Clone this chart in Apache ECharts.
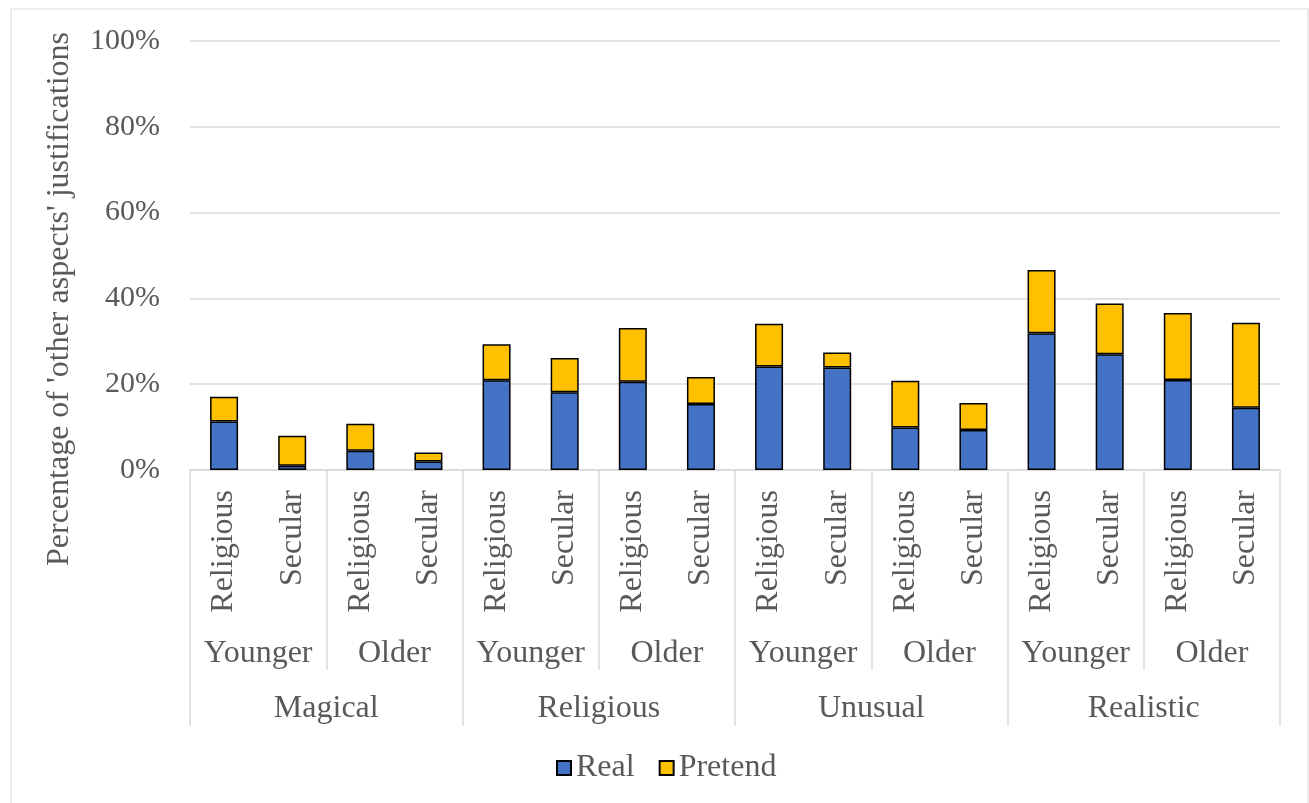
<!DOCTYPE html>
<html>
<head>
    <meta charset="utf-8" />
    <title>Other aspects justifications</title>
    <script src="https://cdn.jsdelivr.net/npm/echarts@6/dist/echarts.min.js"></script>
    <style>
        html, body { margin: 0; padding: 0; background: #fff; }
        #chart { width: 1309px; height: 803px; }
    </style>
</head>
<body>
    <div id="chart"></div>
    <script>
        // 分类（三级横轴）
        var level1 = ['Religious', 'Secular', 'Religious', 'Secular',
                      'Religious', 'Secular', 'Religious', 'Secular',
                      'Religious', 'Secular', 'Religious', 'Secular',
                      'Religious', 'Secular', 'Religious', 'Secular'];
        var level2 = ['Younger', 'Older', 'Younger', 'Older', 'Younger', 'Older', 'Younger', 'Older'];
        var level3 = ['Magical', 'Religious', 'Unusual', 'Realistic'];
        // 数据（%）
        var realData = [11.3, 1.0, 4.5, 2.0, 20.9, 18.1, 20.6, 15.4, 24.1, 23.9, 9.9, 9.3, 31.9, 27.0, 21.0, 14.5];
        var pretendData = [5.8, 7.0, 6.3, 2.1, 8.4, 8.0, 12.5, 6.3, 10.0, 3.5, 10.9, 6.3, 14.7, 11.8, 15.6, 19.8];
        var yTicks = [0, 20, 40, 60, 80, 100];

        var font = 'Liberation Serif, "Times New Roman", serif';
        var txtColor = '#595959';
        var lineColor = '#d9d9d9';

        var myChart = echarts.init(document.getElementById('chart'));
        var option = {
            backgroundColor: '#fff',
            animation: false,
            textStyle: { fontFamily: font },
            graphic: [
                {
                    type: 'rect',
                    shape: { x: 11, y: 9, width: 1297, height: 800 },
                    style: { fill: 'none', stroke: lineColor, lineWidth: 1 },
                    silent: true
                },
                {
                    type: 'text',
                    x: 60, y: 299,
                    rotation: Math.PI / 2,
                    style: {
                        text: "Percentage of 'other aspects' justifications",
                        font: '32px ' + font,
                        fill: txtColor,
                        align: 'center',
                        verticalAlign: 'middle'
                    }
                }
            ],
            grid: { left: 190, right: 29, top: 41, bottom: 333 },
            legend: {
                bottom: 14,
                left: 551,
                itemWidth: 14,
                itemHeight: 14,
                itemGap: 24,
                textStyle: { fontSize: 32, color: txtColor, fontFamily: font },
                data: [
                    { name: 'Real', icon: 'rect' },
                    { name: 'Pretend', icon: 'rect' }
                ]
            },
            xAxis: [
                {
                    type: 'category',
                    data: level1,
                    axisLine: { show: true, lineStyle: { color: lineColor, width: 1.5 } },
                    axisTick: { show: false },
                    axisLabel: {
                        interval: 0, rotate: 90, margin: 20,
                        fontSize: 32, color: txtColor, fontFamily: font
                    }
                },
                {
                    type: 'category',
                    data: level2,
                    position: 'bottom',
                    axisLine: { show: false },
                    axisTick: { show: true, interval: 0, length: 200, lineStyle: { color: lineColor, width: 1.5 } },
                    axisLabel: {
                        interval: 0, margin: 168,
                        fontSize: 32, color: txtColor, fontFamily: font
                    }
                },
                {
                    type: 'category',
                    data: level3,
                    position: 'bottom',
                    axisLine: { show: false },
                    axisTick: { show: true, interval: 0, length: 256, lineStyle: { color: lineColor, width: 1.5 } },
                    axisLabel: {
                        interval: 0, margin: 223,
                        fontSize: 32, color: txtColor, fontFamily: font
                    }
                }
            ],
            yAxis: {
                type: 'value',
                min: yTicks[0],
                max: yTicks[yTicks.length - 1],
                interval: 20,
                axisLine: { show: false },
                axisTick: { show: false },
                axisLabel: {
                    formatter: '{value}%', margin: 30,
                    fontSize: 30, color: txtColor, fontFamily: font
                },
                splitLine: { lineStyle: { color: lineColor, width: 1.5 } }
            },
            series: [
                {
                    name: 'Real',
                    type: 'bar',
                    stack: 'total',
                    barWidth: 28,
                    data: realData,
                    itemStyle: { color: '#4472C4', borderColor: '#000', borderWidth: 1.5 }
                },
                {
                    name: 'Pretend',
                    type: 'bar',
                    stack: 'total',
                    barWidth: 28,
                    data: pretendData,
                    itemStyle: { color: '#FFC000', borderColor: '#000', borderWidth: 1.5 }
                }
            ]
        };
        myChart.setOption(option);
    </script>
</body>
</html>
